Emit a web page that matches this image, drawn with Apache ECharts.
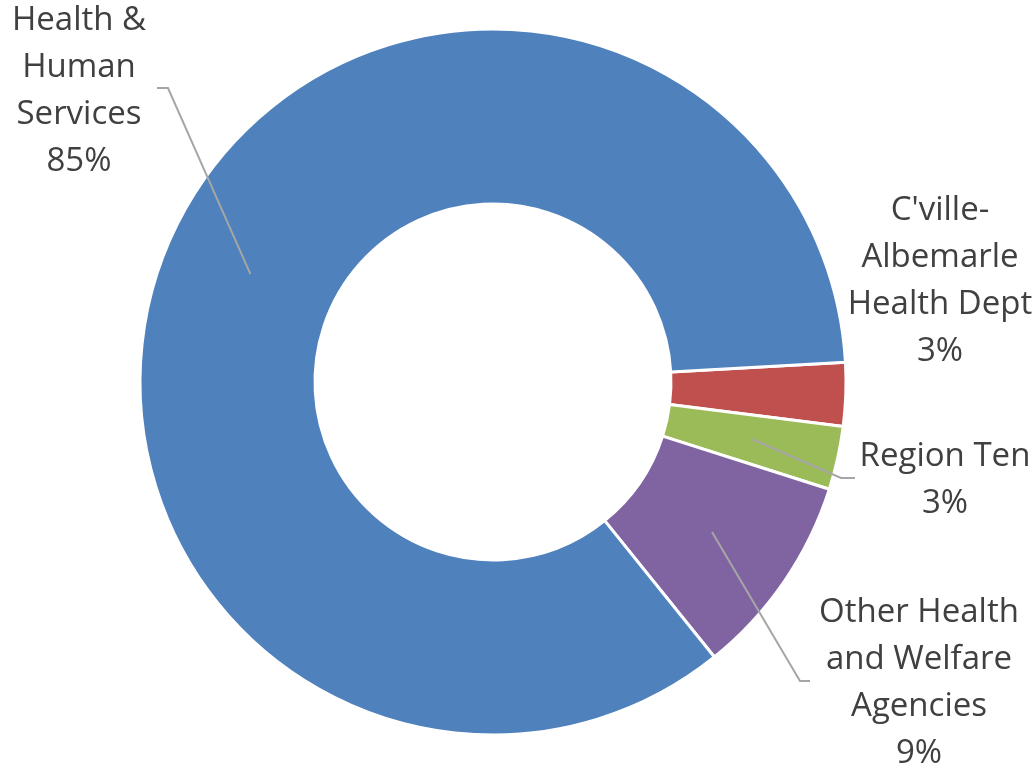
<!DOCTYPE html>
<html><head><meta charset="utf-8">
<script src="https://cdn.jsdelivr.net/npm/echarts@6/dist/echarts.min.js"></script>
<style>html,body{margin:0;padding:0;background:#fff}#c{width:1036px;height:774px}</style>
</head><body><div id="c"></div>
<script>
const categories = ["C'ville-\nAlbemarle\nHealth Dept", "Region Ten", "Other Health\nand Welfare\nAgencies", "Health &\nHuman\nServices"];
const values = [2.9, 2.9, 9.3, 84.9];
const colors = ['#C0504D', '#9BBB59', '#8064A2', '#4F81BD'];

const CX = 493, CY = 382, R0 = 178, R1 = 353, START = 3.2;
// label block centers
const labelPos = [[940, 281], [945, 480], [919, 683], [79, 91]];
// leader line end points near labels (null = no line)
const leaderEnds = [null, [[855, 478], [841, 478]], [[810, 681], [800, 681]], [[157, 88], [168, 88]]];

const total = values.reduce((a, b) => a + b, 0);
const graphics = [];
let a = START;
values.forEach((v, i) => {
  const span = v / total * 360;
  const mid = a - span / 2;
  a -= span;
  if (!leaderEnds[i]) return;
  const rm = (R0 + R1) / 2;
  const rad = mid * Math.PI / 180;
  const p = [CX + rm * Math.cos(rad), CY - rm * Math.sin(rad)];
  graphics.push({
    type: 'polyline', silent: true, z: 10,
    shape: { points: [leaderEnds[i][0], leaderEnds[i][1], p] },
    style: { stroke: '#A6A6A6', lineWidth: 2, fill: null }
  });
});

const chart = echarts.init(document.getElementById('c'));
chart.setOption({
  animation: false,
  color: colors,
  graphic: graphics,
  series: [{
    type: 'pie',
    center: [CX, CY],
    radius: [R0, R1],
    startAngle: START,
    clockwise: true,
    percentPrecision: 0,
    avoidLabelOverlap: false,
    itemStyle: { borderColor: '#fff', borderWidth: 3 },
    label: {
      show: true, position: 'outside',
      formatter: '{b}\n{d}%',
      fontFamily: 'Open Sans', fontSize: 33, lineHeight: 47,
      color: '#404040', align: 'center'
    },
    labelLine: { show: false },
    labelLayout: function (params) {
      const p = labelPos[params.dataIndex];
      return { x: p[0], y: p[1], align: 'center', verticalAlign: 'middle' };
    },
    emphasis: { disabled: true },
    data: categories.map((c, i) => ({ name: c, value: values[i] }))
  }]
});
</script></body></html>
